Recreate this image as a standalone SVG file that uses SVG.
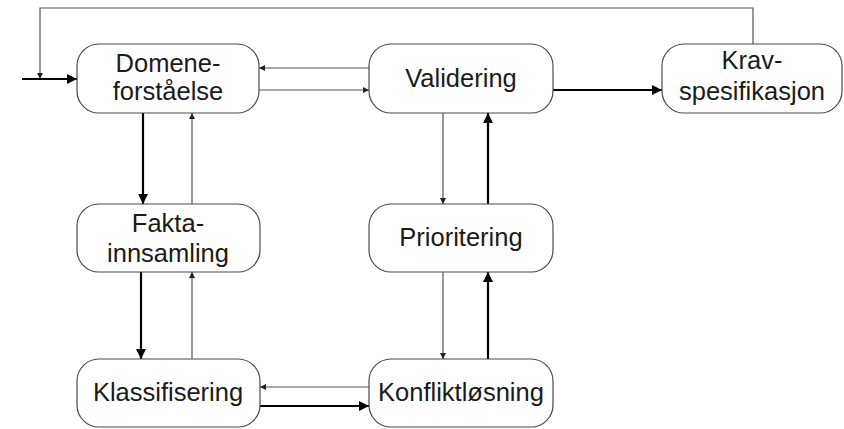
<svg xmlns="http://www.w3.org/2000/svg" width="844" height="429" viewBox="0 0 844 429">
<style>
.box{fill:#fff;stroke:#4a4a4a;stroke-width:1.2}
.t{font-family:"Liberation Sans",Arial,sans-serif;font-size:25.5px;fill:#1a1a1a;text-anchor:middle}
.thin{stroke:#555;stroke-width:1.2;fill:none}
.thick{stroke:#000;stroke-width:2.2;fill:none}
</style>
<defs>
<marker id="ah" viewBox="0 0 10 10" refX="10" refY="5" markerUnits="userSpaceOnUse" markerWidth="12" markerHeight="10" orient="auto"><path d="M0,0 L10,5 L0,10 z" fill="#000"/></marker>
<marker id="as" viewBox="0 0 10 10" refX="10" refY="5" markerUnits="userSpaceOnUse" markerWidth="9" markerHeight="6" orient="auto"><path d="M0,0 L10,5 L0,10 z" fill="#222"/></marker>
</defs>
<rect width="844" height="429" fill="#fff"/>
<g id="connectors">
<polyline class="thin" points="753,44 753,8 40,8 40,79" marker-end="url(#as)"/>
<line class="thick" x1="22" y1="79" x2="77" y2="79" marker-end="url(#ah)"/>
<line class="thin" x1="369" y1="68" x2="259" y2="68" marker-end="url(#as)"/>
<line class="thin" x1="259" y1="90" x2="369" y2="90" marker-end="url(#as)"/>
<line class="thick" x1="553" y1="90" x2="662" y2="90" marker-end="url(#ah)"/>
<line class="thick" x1="143" y1="113" x2="143" y2="204" marker-end="url(#ah)"/>
<line class="thin" x1="192" y1="204" x2="192" y2="113" marker-end="url(#as)"/>
<line class="thin" x1="443" y1="113" x2="443" y2="204" marker-end="url(#as)"/>
<line class="thick" x1="488" y1="204" x2="488" y2="113" marker-end="url(#ah)"/>
<line class="thick" x1="141" y1="272" x2="141" y2="359" marker-end="url(#ah)"/>
<line class="thin" x1="192" y1="359" x2="192" y2="272" marker-end="url(#as)"/>
<line class="thin" x1="443" y1="272" x2="443" y2="359" marker-end="url(#as)"/>
<line class="thick" x1="488" y1="359" x2="488" y2="272" marker-end="url(#ah)"/>
<line class="thin" x1="369" y1="387" x2="260" y2="387" marker-end="url(#as)"/>
<line class="thick" x1="260" y1="406" x2="369" y2="406" marker-end="url(#ah)"/>
</g>
<g id="domene"><rect class="box" x="77" y="44" width="182" height="69" rx="22"/><text class="t" x="168" y="72">Domene-</text><text class="t" x="168" y="100">forståelse</text></g>
<g id="validering"><rect class="box" x="369" y="44" width="184" height="69" rx="22"/><text class="t" x="461" y="87">Validering</text></g>
<g id="krav"><rect class="box" x="662" y="44" width="180" height="69" rx="22"/><text class="t" x="752" y="69">Krav-</text><text class="t" x="752" y="100">spesifikasjon</text></g>
<g id="fakta"><rect class="box" x="77" y="204" width="183" height="68" rx="22"/><text class="t" x="168" y="232">Fakta-</text><text class="t" x="168" y="262">innsamling</text></g>
<g id="prioritering"><rect class="box" x="369" y="204" width="184" height="68" rx="22"/><text class="t" x="461" y="246">Prioritering</text></g>
<g id="klassifisering"><rect class="box" x="77" y="359" width="183" height="68" rx="22"/><text class="t" x="168" y="401">Klassifisering</text></g>
<g id="konflikt"><rect class="box" x="369" y="359" width="184" height="68" rx="22"/><text class="t" x="461" y="401">Konfliktløsning</text></g>
</svg>
